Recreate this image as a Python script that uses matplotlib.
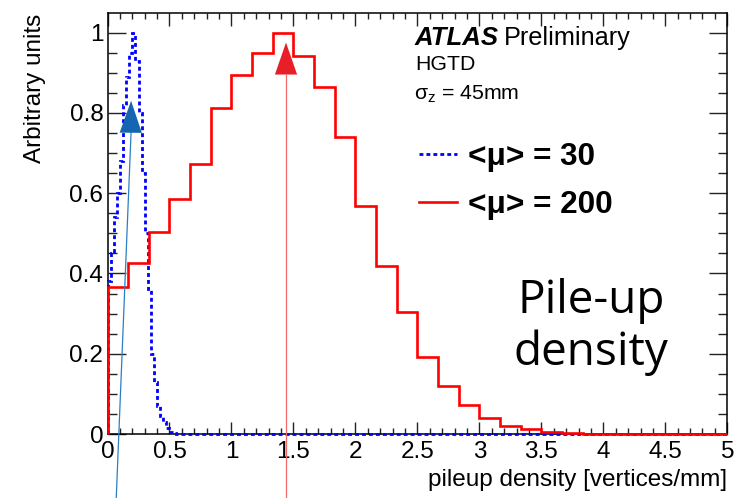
import numpy as np
import matplotlib
matplotlib.use("Agg")
import matplotlib.pyplot as plt
from matplotlib.ticker import MultipleLocator, FormatStrFormatter
from matplotlib.patches import FancyArrowPatch

plt.rcParams['font.family'] = ['Liberation Sans', 'DejaVu Sans']
plt.rcParams['mathtext.fontset'] = 'custom'
plt.rcParams['mathtext.rm'] = 'Liberation Sans'
plt.rcParams['mathtext.it'] = 'Liberation Sans:italic'

# pileup density histograms, normalised to unit maximum
mu200_edges = np.linspace(0, 5, 31)
mu200_vals = [0.366, 0.426, 0.503, 0.586, 0.673, 0.813, 0.895, 0.950, 1.000, 0.942,
              0.864, 0.741, 0.569, 0.419, 0.303, 0.193, 0.120, 0.072, 0.039, 0.021,
              0.012, 0.006, 0.002, 0.0, 0.0, 0.0, 0.0, 0.0, 0.0, 0.0]

mu30_edges = np.linspace(0, 5, 201)
mu30_peak = [0.38, 0.45, 0.54, 0.60, 0.68, 0.82, 0.89, 0.95, 1.00, 0.93,
             0.80, 0.65, 0.50, 0.36, 0.20, 0.13, 0.07, 0.045, 0.03, 0.015,
             0.005, 0.002]
mu30_vals = mu30_peak + [0.0] * (200 - len(mu30_peak))

# average density markers
mu30_mean = 0.19
mu200_mean = 1.44

fig = plt.figure(figsize=(7.40, 4.98), dpi=100)
ax = fig.add_axes([0.1453, 0.1285, 0.8375, 0.8448])

ax.stairs(mu30_vals, mu30_edges, color='#0000ff', lw=2.0,
          linestyle=(0, (1.4, 1.1)), clip_on=False, zorder=3)
ax.stairs(mu200_vals, mu200_edges, color='#ff0000', lw=1.9,
          clip_on=False, zorder=4)

ax.set_xlim(0, 5)
ax.set_ylim(0, 1.048)

# ROOT style frame: inward ticks on all four sides
ax.xaxis.set_major_locator(MultipleLocator(0.5))
ax.xaxis.set_minor_locator(MultipleLocator(0.1))
ax.yaxis.set_major_locator(MultipleLocator(0.2))
ax.yaxis.set_minor_locator(MultipleLocator(0.05))
ax.xaxis.set_major_formatter(FormatStrFormatter('%g'))
ax.yaxis.set_major_formatter(FormatStrFormatter('%g'))
ax.tick_params(axis='both', which='both', direction='in', top=True, right=True,
               labelsize=17.5, width=1.0, color='#222222')
ax.tick_params(axis='x', which='major', length=9, pad=5)
ax.tick_params(axis='x', which='minor', length=4.5)
ax.tick_params(axis='y', which='major', length=13, pad=3)
ax.tick_params(axis='y', which='minor', length=6.5)
for sp in ax.spines.values():
    sp.set_linewidth(1.1)

ax.set_xlabel('pileup density [vertices/mm]', fontsize=17.5, loc='right', labelpad=4)
ax.set_ylabel('Arbitrary units', fontsize=17.5, loc='top', labelpad=17)

# labels
ax.text(0.496, 0.925, 'ATLAS', transform=ax.transAxes, fontsize=18.5,
        fontweight='bold', fontstyle='italic', va='baseline')
ax.text(0.640, 0.925, 'Preliminary', transform=ax.transAxes, fontsize=18.2,
        va='baseline')
ax.text(0.496, 0.866, 'HGTD', transform=ax.transAxes, fontsize=15.3, va='baseline')
ax.text(0.494, 0.795, r'$\mathregular{σ_z}$ = 45mm', transform=ax.transAxes,
        fontsize=15.3, va='baseline')

ax.text(0.78, 0.255, 'Pile-up\ndensity', transform=ax.transAxes, fontsize=33,
        ha='center', va='center', linespacing=1.15, family=['Open Sans', 'DejaVu Sans'])

h30, = ax.plot([], [], color='#0000ff', lw=2.0, linestyle=(0, (1.4, 1.1)))
h200, = ax.plot([], [], color='#ff0000', lw=1.9)
ax.legend([h30, h200], ['<μ> = 30', '<μ> = 200'], loc='upper left',
          bbox_to_anchor=(0.503, 0.695), frameon=False,
          prop={'size': 22.7, 'weight': 'bold'}, handlelength=1.2,
          handletextpad=0.35, labelspacing=0.58, borderaxespad=0, borderpad=0)

# arrows pointing at the average density
for xm, tip, base, tail_x, line_c, head_c in [
        (mu30_mean, 0.83, 0.752, 0.065, '#2a7fc4', '#1565b0'),
        (mu200_mean, 0.975, 0.895, mu200_mean, '#f06a6a', '#e81e28')]:
    ax.plot([tail_x, xm], [-0.2, base], color=line_c, lw=0.9,
            clip_on=False, zorder=5)
    head = FancyArrowPatch((xm - (xm - tail_x) * 0.02, base), (xm, tip),
                           arrowstyle='-|>,head_length=23,head_width=8',
                           mutation_scale=1, color=head_c, lw=0,
                           shrinkA=0, shrinkB=0, clip_on=False, zorder=6)
    ax.add_patch(head)

fig.savefig('out.png', dpi=100)
